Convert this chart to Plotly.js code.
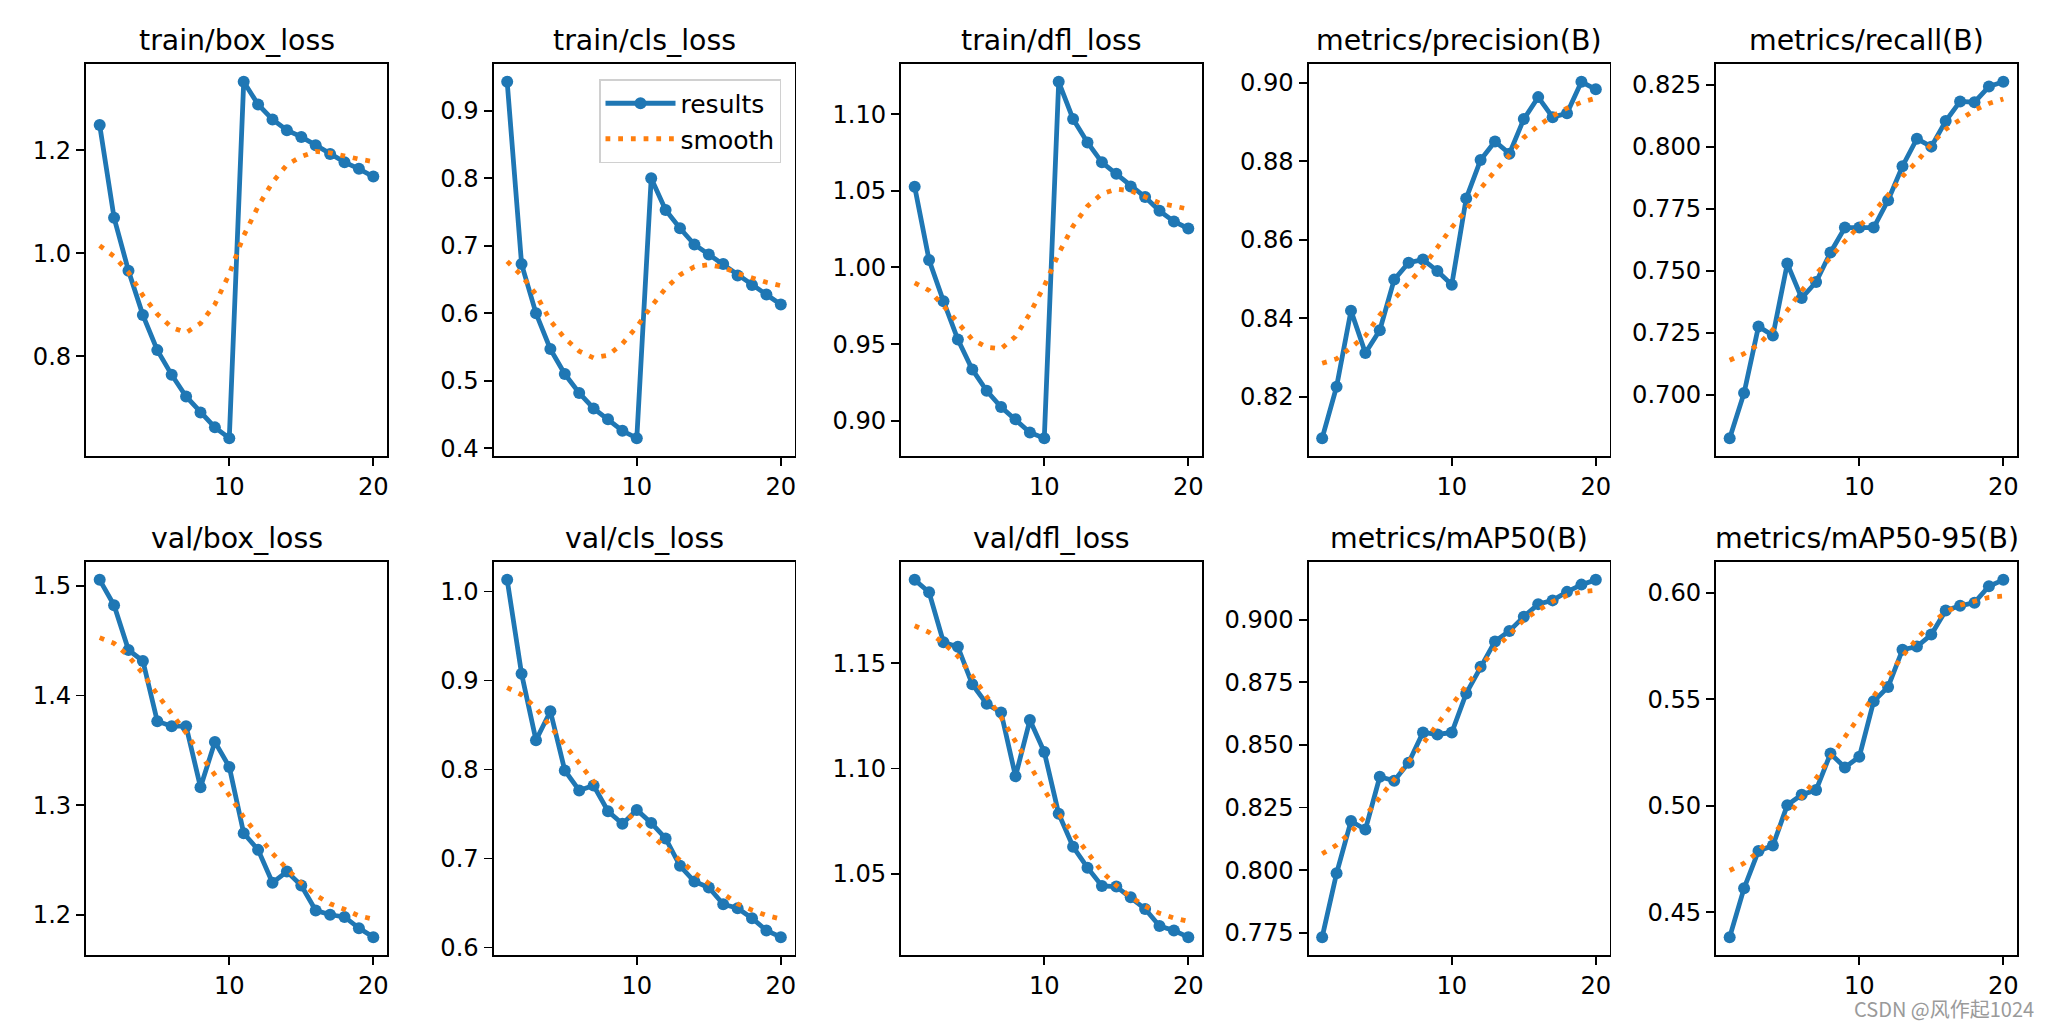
<!DOCTYPE html>
<html>
<head>
<meta charset="utf-8">
<script src="https://cdn.plot.ly/plotly-3.0.1.min.js"></script>
<style>
html,body{margin:0;padding:0;background:#fff;}
#chart{width:2048px;height:1024px;}
</style>
</head>
<body>
<div id="chart"></div>
<script>
const epochs = [1,2,3,4,5,6,7,8,9,10,11,12,13,14,15,16,17,18,19,20];
const xTickVals = [10, 20];

const panelTitles = ["train/box_loss","train/cls_loss","train/dfl_loss","metrics/precision(B)","metrics/recall(B)",
                     "val/box_loss","val/cls_loss","val/dfl_loss","metrics/mAP50(B)","metrics/mAP50-95(B)"];

const trainBoxLoss       = [1.249,1.069,0.966,0.880,0.812,0.764,0.722,0.691,0.662,0.641,1.333,1.289,1.260,1.239,1.226,1.210,1.193,1.177,1.164,1.149];
const trainBoxLossSmooth = [1.015,0.994,0.963,0.918,0.882,0.856,0.846,0.864,0.901,0.960,1.034,1.091,1.138,1.172,1.188,1.198,1.195,1.188,1.183,1.178];

const trainClsLoss       = [0.943,0.673,0.600,0.547,0.510,0.482,0.459,0.443,0.426,0.415,0.800,0.753,0.726,0.702,0.687,0.673,0.656,0.642,0.628,0.613];
const trainClsLossSmooth = [0.677,0.656,0.628,0.589,0.563,0.544,0.534,0.538,0.555,0.580,0.610,0.637,0.657,0.669,0.672,0.668,0.659,0.652,0.646,0.641];

const trainDflLoss       = [1.0526,1.0048,0.978,0.953,0.9335,0.9196,0.909,0.901,0.8924,0.8887,1.121,1.0967,1.0815,1.0685,1.061,1.0528,1.0459,1.0369,1.030,1.0254];
const trainDflLossSmooth = [0.990,0.985,0.975,0.964,0.953,0.948,0.947,0.955,0.970,0.988,1.009,1.027,1.040,1.048,1.051,1.050,1.046,1.042,1.040,1.038];

const precision       = [0.8094,0.8225,0.8419,0.8311,0.8369,0.8498,0.8541,0.8549,0.852,0.8485,0.8705,0.8803,0.885,0.8819,0.8907,0.8963,0.8912,0.8922,0.9002,0.8983];
const precisionSmooth = [0.8285,0.8296,0.8325,0.8355,0.8408,0.845,0.849,0.853,0.858,0.8631,0.8675,0.873,0.8775,0.8815,0.886,0.889,0.8915,0.8935,0.895,0.896];

const recall       = [0.6826,0.7008,0.7276,0.7239,0.7529,0.739,0.7455,0.7574,0.7674,0.7674,0.7674,0.7784,0.7921,0.8032,0.800,0.8103,0.8182,0.8179,0.8242,0.8261];
const recallSmooth = [0.714,0.7166,0.7203,0.7263,0.734,0.742,0.7487,0.7555,0.762,0.768,0.7737,0.7805,0.788,0.794,0.801,0.807,0.811,0.8147,0.8174,0.8192];

const valBoxLoss       = [1.5055,1.4823,1.4415,1.4315,1.3765,1.372,1.372,1.3164,1.3577,1.3349,1.2744,1.2592,1.2293,1.2394,1.2266,1.204,1.200,1.198,1.1878,1.1796];
const valBoxLossSmooth = [1.4528,1.4476,1.436,1.420,1.401,1.384,1.366,1.346,1.328,1.309,1.289,1.272,1.256,1.242,1.229,1.218,1.210,1.205,1.199,1.196];

const valClsLoss       = [1.0131,0.9075,0.8328,0.8655,0.7989,0.7764,0.782,0.7531,0.7389,0.7546,0.7400,0.7225,0.6917,0.6741,0.6674,0.6486,0.6441,0.6328,0.6191,0.6116];
const valClsLossSmooth = [0.892,0.884,0.869,0.848,0.828,0.806,0.7865,0.769,0.756,0.740,0.726,0.712,0.698,0.684,0.672,0.660,0.649,0.642,0.636,0.632];

const valDflLoss       = [1.1896,1.1837,1.160,1.1578,1.140,1.1307,1.1266,1.0963,1.123,1.1078,1.0785,1.0628,1.0529,1.0442,1.0439,1.0389,1.0333,1.0252,1.023,1.0199];
const valDflLossSmooth = [1.1678,1.1647,1.1595,1.1533,1.144,1.1346,1.1243,1.1128,1.101,1.0894,1.0785,1.0692,1.060,1.051,1.0445,1.039,1.0346,1.0312,1.029,1.0274];

const map50       = [0.7732,0.7987,0.8196,0.8162,0.8373,0.8357,0.8429,0.855,0.8542,0.855,0.8706,0.8813,0.8914,0.8956,0.9013,0.9063,0.9078,0.9112,0.9141,0.916];
const map50Smooth = [0.8065,0.810,0.8152,0.8217,0.829,0.8361,0.8432,0.8505,0.8583,0.8661,0.874,0.8813,0.8883,0.8943,0.900,0.9039,0.9073,0.9097,0.9112,0.9118];

const map5095       = [0.4383,0.4613,0.4788,0.4813,0.5003,0.5052,0.5074,0.5245,0.518,0.523,0.5491,0.5558,0.5733,0.5748,0.5804,0.5917,0.5939,0.5954,0.6031,0.6061];
const map5095Smooth = [0.4696,0.473,0.4785,0.4862,0.4948,0.5037,0.5129,0.5227,0.5325,0.542,0.5518,0.561,0.5702,0.5785,0.5856,0.5911,0.5942,0.5963,0.5979,0.5985];

const yDticks   = [0.2, 0.1, 0.05, 0.02, 0.025, 0.1, 0.1, 0.05, 0.025, 0.05];
const yFormats  = [".1f", ".1f", ".2f", ".2f", ".3f", ".1f", ".1f", ".2f", ".3f", ".2f"];

const resultsSeries = [trainBoxLoss, trainClsLoss, trainDflLoss, precision, recall, valBoxLoss, valClsLoss, valDflLoss, map50, map5095];
const smoothSeries  = [trainBoxLossSmooth, trainClsLossSmooth, trainDflLossSmooth, precisionSmooth, recallSmooth,
                       valBoxLossSmooth, valClsLossSmooth, valDflLossSmooth, map50Smooth, map5095Smooth];

const W = 2048, H = 1024;
const colLeft = i => 86 + 407.5 * i;
const colWidth = 301;
const rowTop = [64, 562], rowBottom = [456, 955];

const FONT = "DejaVu Sans, Liberation Sans, sans-serif";
const BLUE = "#1f77b4", ORANGE = "#ff7f0e";
const TICK_SIZE = 24.2, TITLE_SIZE = 28.4, LEGEND_SIZE = 25;

const traces = [];
const layout = {
  width: W, height: H,
  margin: {l: 0, r: 0, t: 0, b: 0},
  paper_bgcolor: "#ffffff", plot_bgcolor: "#ffffff",
  font: {family: FONT, size: TICK_SIZE, color: "#000000"},
  showlegend: true,
  legend: {
    x: 781 / W, y: 1 - 79 / H, xanchor: "right", yanchor: "top",
    bgcolor: "rgba(255,255,255,0.8)", bordercolor: "#d0d0d0", borderwidth: 1.5,
    font: {family: FONT, size: LEGEND_SIZE, color: "#000"},
    itemwidth: 70, traceorder: "grouped", tracegroupgap: 0
  },
  annotations: []
};

for (let i = 0; i < 10; i++) {
  const row = Math.floor(i / 5), col = i % 5;
  const sfx = i === 0 ? "" : String(i + 1);
  const xa = "x" + sfx, ya = "y" + sfx;
  const res = resultsSeries[i], sm = smoothSeries[i];
  traces.push({
    x: epochs, y: res, xaxis: xa, yaxis: ya, type: "scatter", mode: "lines+markers",
    name: "results", showlegend: i === 1, legendgroup: "results",
    line: {color: BLUE, width: 4.8}, marker: {color: BLUE, size: 12}
  });
  traces.push({
    x: epochs, y: sm, xaxis: xa, yaxis: ya, type: "scatter", mode: "lines",
    name: "smooth", showlegend: i === 1, legendgroup: "smooth",
    line: {color: ORANGE, width: 4.8, dash: "4.8px,7.9px"}
  });
  const all = res.concat(sm);
  const mn = Math.min(...all), mx = Math.max(...all), pad = (mx - mn) * 0.05;
  const L = colLeft(col);
  const axBase = {
    showline: true, mirror: true, linecolor: "#000", linewidth: 1.9,
    ticks: "outside", ticklen: 8, tickwidth: 1.9, tickcolor: "#000",
    showgrid: false, zeroline: false,
    tickfont: {family: FONT, size: TICK_SIZE, color: "#000"}
  };
  layout["xaxis" + sfx] = Object.assign({}, axBase, {
    domain: [L / W, (L + colWidth) / W], anchor: ya,
    range: [0.05, 20.95], tickmode: "array", tickvals: xTickVals
  });
  layout["yaxis" + sfx] = Object.assign({}, axBase, {
    domain: [1 - rowBottom[row] / H, 1 - rowTop[row] / H], anchor: xa,
    range: [mn - pad, mx + pad], tick0: 0, dtick: yDticks[i], tickformat: yFormats[i]
  });
  layout.annotations.push({
    text: panelTitles[i], xref: "paper", yref: "paper",
    x: (L + colWidth / 2) / W, y: 1 - rowTop[row] / H,
    xanchor: "center", yanchor: "bottom", yshift: 5, showarrow: false,
    font: {family: FONT, size: TITLE_SIZE, color: "#000"}
  });
}

layout.annotations.push({
  text: "CSDN @风作起1024", xref: "paper", yref: "paper",
  x: 2036 / W, y: 1 - 1008 / H, xanchor: "right", yanchor: "middle", showarrow: false,
  font: {family: "Noto Sans CJK SC, DejaVu Sans, sans-serif", size: 20, color: "#9a9a9a"}
});

Plotly.newPlot("chart", traces, layout, {displayModeBar: false, staticPlot: true});
</script>
</body>
</html>
